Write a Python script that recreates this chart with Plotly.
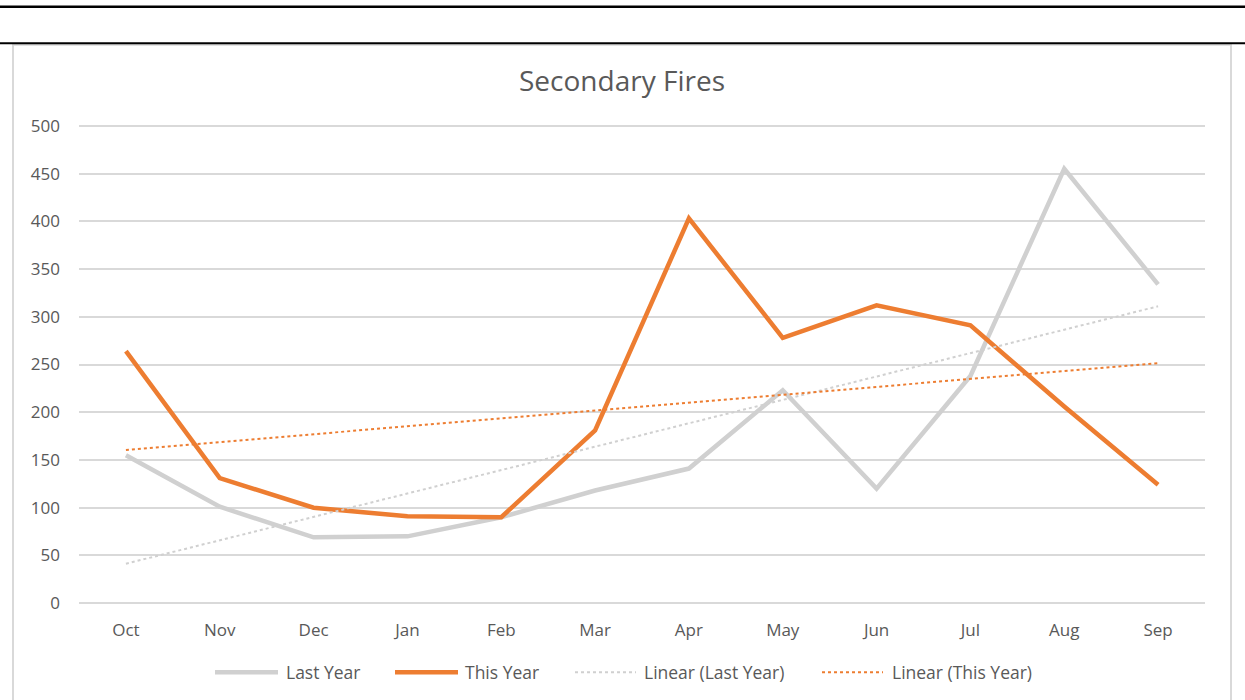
import plotly.graph_objects as go
import numpy as np

months = ["Oct", "Nov", "Dec", "Jan", "Feb", "Mar", "Apr", "May", "Jun", "Jul", "Aug", "Sep"]
last_year = [155, 101, 69, 70, 90, 118, 141, 223, 120, 238, 455, 334]
this_year = [264, 131, 100, 91, 90, 181, 403, 278, 312, 291, 206, 124]
y_ticks = [0, 50, 100, 150, 200, 250, 300, 350, 400, 450, 500]

GRAY = "#d0d0d0"
ORANGE = "#ed7d31"
TEXT = "#595959"
FONT = "Open Sans"

idx = np.arange(len(months))


def linear_fit(vals):
    slope, intercept = np.polyfit(idx, np.array(vals, dtype=float), 1)
    return list(intercept + slope * idx)


series = [
    ("Last Year", last_year, dict(color=GRAY, width=4.5)),
    ("This Year", this_year, dict(color=ORANGE, width=4.5)),
    ("Linear (Last Year)", linear_fit(last_year), dict(color=GRAY, width=2, dash="dot")),
    ("Linear (This Year)", linear_fit(this_year), dict(color=ORANGE, width=2, dash="dot")),
]

fig = go.Figure()
for name, vals, line in series:
    fig.add_trace(go.Scatter(x=months, y=vals, mode="lines", name=name, line=line,
                             showlegend=False))

W, H = 1245, 700
pad = 4  # data units of padding so the 0 and 500 gridlines get drawn
unit = (603 - 126) / 500.0
L, R = 79, 40
T = 126 - pad * unit
B = (H - 603) - pad * unit
pw, ph = W - L - R, H - T - B


def px(xp):
    return (xp - L) / pw


def py(yp):
    return (H - B - yp) / ph


shapes = [
    dict(type="rect", xref="paper", yref="paper", x0=px(13), x1=px(1231), y0=py(710), y1=py(45),
         line=dict(color="#d9d9d9", width=2), fillcolor="rgba(0,0,0,0)", layer="below"),
    dict(type="line", xref="paper", yref="paper", x0=px(-5), x1=px(1250), y0=py(7), y1=py(7),
         line=dict(color="black", width=2.5)),
    dict(type="line", xref="paper", yref="paper", x0=px(-5), x1=px(1250), y0=py(43.5), y1=py(43.5),
         line=dict(color="black", width=2)),
]

# custom legend (Excel-style long keys)
legend_pos = [(215, 278, 284), (395, 458, 463), (575, 636, 642), (822, 883, 890)]
annotations = []
leg_y = py(672)
for (name, _, line), (sx0, sx1, tx) in zip(series, legend_pos):
    shapes.append(dict(type="line", xref="paper", yref="paper", x0=px(sx0), x1=px(sx1),
                       y0=leg_y, y1=leg_y, line=line))
    annotations.append(dict(text=name, xref="paper", yref="paper", x=px(tx), y=leg_y,
                            xanchor="left", yanchor="middle", showarrow=False,
                            font=dict(size=17.5, color=TEXT, family=FONT)))

fig.update_layout(
    width=W, height=H,
    margin=dict(l=L, r=R, t=T, b=B),
    paper_bgcolor="white", plot_bgcolor="white",
    font=dict(family=FONT, color=TEXT, size=17),
    title=dict(text="Secondary Fires", x=622 / W, xanchor="center", y=1 - 81 / H, yanchor="middle",
               font=dict(size=28, color=TEXT, family=FONT)),
    xaxis=dict(range=[-0.5, 11.5], showgrid=False, zeroline=False, showline=False,
               ticks="", ticklabelstandoff=int(round(15 - pad * unit)),
               tickfont=dict(size=17, color=TEXT)),
    yaxis=dict(range=[-pad, 500 + pad], tickvals=y_ticks, showgrid=True,
               gridcolor="#d9d9d9", gridwidth=1.5,
               zeroline=False, showline=False, ticks="", ticklabelstandoff=18,
               tickfont=dict(size=17, color=TEXT)),
    shapes=shapes,
    annotations=annotations,
    showlegend=False,
)

fig.write_html("out.html", config={"displayModeBar": False},
               post_script="document.body.style.margin='0';document.body.style.overflow='hidden';")
